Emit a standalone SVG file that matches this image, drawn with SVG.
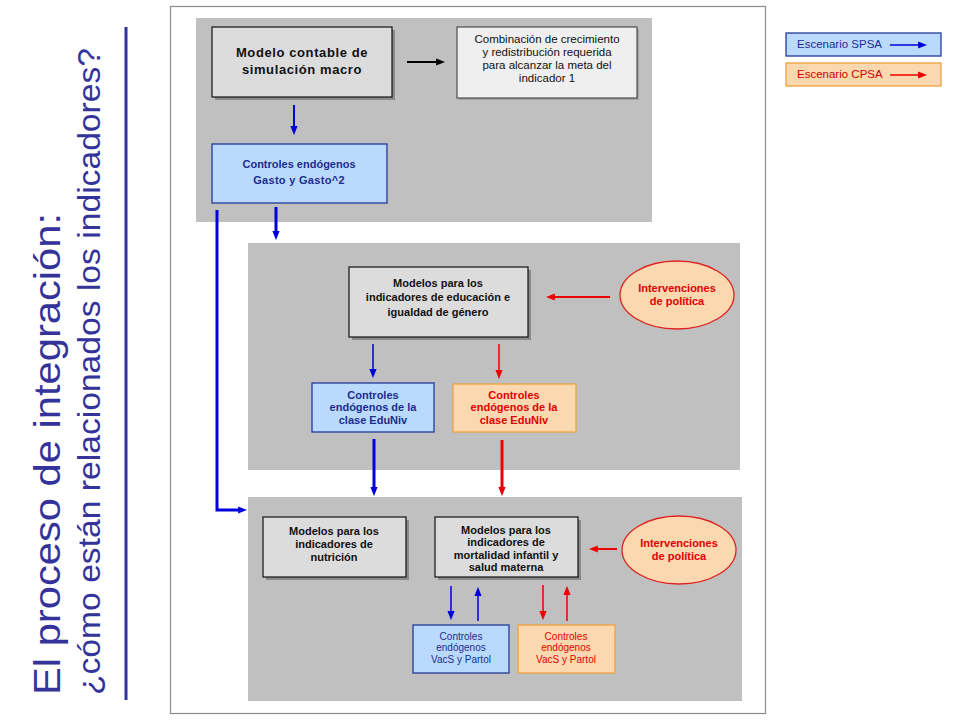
<svg xmlns="http://www.w3.org/2000/svg" width="960" height="720" viewBox="0 0 960 720">
<style>
.panel{fill:#c0c0c0}
.shadow{fill:#8a8a8a}
.gbox{fill:#dcdcdc;stroke:#111;stroke-width:1.2}
.lbox{fill:#efefef;stroke:#333;stroke-width:1}
.bbox{fill:#badafd;stroke:#233a98;stroke-width:1.3}
.obox{fill:#fcd8b0;stroke:#eea23e;stroke-width:1.3}
.ell{fill:#fcd8b0;stroke:#e02020;stroke-width:1.3}
text{font-family:"Liberation Sans",Arial,sans-serif;text-anchor:middle}
.tb{font-weight:bold;font-size:11px;fill:#111}
.tb13{font-weight:bold;font-size:13px;fill:#111;letter-spacing:0.6px}
.tr{font-size:11.5px;fill:#111}
.blue{fill:#1c2c8e}
.red{fill:#e00000}
.small{font-size:10px}
.ab{stroke:#0000dd;fill:none}
.ar{stroke:#ee0000;fill:none}
.ak{stroke:#000;fill:none}
.title{font-family:"Liberation Sans",Arial,sans-serif;fill:#33339a;text-anchor:start}
</style>
<defs>
<marker id="hb" markerUnits="userSpaceOnUse" markerWidth="9" markerHeight="8" viewBox="0 0 10 8" refX="1" refY="4" orient="auto"><path d="M0,0 L10,4 L0,8 z" fill="#0000dd"/></marker>
<marker id="hr" markerUnits="userSpaceOnUse" markerWidth="9" markerHeight="8" viewBox="0 0 10 8" refX="1" refY="4" orient="auto"><path d="M0,0 L10,4 L0,8 z" fill="#ee0000"/></marker>
<marker id="hk" markerUnits="userSpaceOnUse" markerWidth="9" markerHeight="8" viewBox="0 0 10 8" refX="1" refY="4" orient="auto"><path d="M0,0 L10,4 L0,8 z" fill="#000"/></marker>
</defs>
<rect width="960" height="720" fill="#fff"/>

<g id="title">
<text class="title" transform="translate(60,695) rotate(-90)" font-size="36" textLength="482" lengthAdjust="spacingAndGlyphs">El proceso de integración:</text>
<text class="title" transform="translate(100,695) rotate(-90)" font-size="32" textLength="647" lengthAdjust="spacingAndGlyphs">¿cómo están relacionados los indicadores?</text>
<line x1="126" y1="27" x2="126" y2="700" stroke="#33339a" stroke-width="3"/>
</g>

<rect id="frame" x="170.5" y="6.5" width="595" height="707" fill="#fff" stroke="#8c8c8c" stroke-width="1.2"/>

<g id="panels">
<rect class="panel" x="196" y="18" width="456" height="204"/>
<rect class="panel" x="248" y="243" width="492" height="227"/>
<rect class="panel" x="248" y="497" width="494" height="204"/>
</g>

<g id="n-modelo">
<rect class="shadow" x="215" y="30" width="180" height="70"/>
<rect class="gbox" x="212" y="27" width="180" height="70"/>
<text class="tb13" x="302" y="57">Modelo contable de</text>
<text class="tb13" x="302" y="74">simulación macro</text>
</g>

<g id="n-combinacion">
<rect class="shadow" x="459" y="29" width="180" height="71" opacity="0.5"/>
<rect class="lbox" x="457" y="27" width="180" height="71"/>
<text class="tr" x="547" y="43">Combinación de crecimiento</text>
<text class="tr" x="547" y="56">y redistribución requerida</text>
<text class="tr" x="547" y="69">para alcanzar la meta del</text>
<text class="tr" x="547" y="82">indicador 1</text>
</g>

<g id="n-gasto">
<rect class="bbox" x="212" y="144" width="175" height="59"/>
<text class="tb blue" x="299" y="168" font-size="12">Controles endógenos</text>
<text class="tb blue" x="299" y="184" font-size="12" letter-spacing="0.3">Gasto y Gasto^2</text>
</g>

<g id="n-educacion">
<rect class="shadow" x="352" y="270" width="179" height="70"/>
<rect class="gbox" x="349" y="267" width="179" height="70"/>
<text class="tb" x="438" y="287" font-size="12">Modelos para los</text>
<text class="tb" x="438" y="301" font-size="12">indicadores de educación e</text>
<text class="tb" x="438" y="316" font-size="12">igualdad de género</text>
</g>

<g id="n-interv1">
<ellipse class="ell" cx="677" cy="295" rx="57" ry="34"/>
<text class="tb red" x="677" y="292">Intervenciones</text>
<text class="tb red" x="677" y="305">de política</text>
</g>

<g id="n-edu-blue">
<rect class="bbox" x="312" y="383" width="122" height="49"/>
<text class="tb blue" x="373" y="399">Controles</text>
<text class="tb blue" x="373" y="411">endógenos de la</text>
<text class="tb blue" x="373" y="424">clase EduNiv</text>
</g>

<g id="n-edu-red">
<rect class="obox" x="453" y="384" width="123" height="48"/>
<text class="tb red" x="514" y="399">Controles</text>
<text class="tb red" x="514" y="411">endógenos de la</text>
<text class="tb red" x="514" y="424">clase EduNiv</text>
</g>

<g id="n-nutricion">
<rect class="shadow" x="266" y="520" width="143" height="60"/>
<rect class="gbox" x="263" y="517" width="143" height="60"/>
<text class="tb" x="334" y="535">Modelos para los</text>
<text class="tb" x="334" y="548">indicadores de</text>
<text class="tb" x="334" y="561">nutrición</text>
</g>

<g id="n-mortalidad">
<rect class="shadow" x="438" y="520" width="143" height="60"/>
<rect class="gbox" x="435" y="517" width="143" height="60"/>
<text class="tb" x="506" y="534">Modelos para los</text>
<text class="tb" x="506" y="546">indicadores de</text>
<text class="tb" x="506" y="559">mortalidad infantil y</text>
<text class="tb" x="506" y="571">salud materna</text>
</g>

<g id="n-interv2">
<ellipse class="ell" cx="679" cy="550" rx="57" ry="34"/>
<text class="tb red" x="679" y="547">Intervenciones</text>
<text class="tb red" x="679" y="560">de política</text>
</g>

<g id="n-vacs-blue">
<rect class="bbox" x="413" y="625" width="96" height="48"/>
<text class="tr blue small" x="461" y="640">Controles</text>
<text class="tr blue small" x="461" y="651">endógenos</text>
<text class="tr blue small" x="461" y="663">VacS y Partol</text>
</g>

<g id="n-vacs-red">
<rect class="obox" x="518" y="625" width="97" height="48"/>
<text class="tr red small" x="566" y="640">Controles</text>
<text class="tr red small" x="566" y="651">endógenos</text>
<text class="tr red small" x="566" y="663">VacS y Partol</text>
</g>

<g id="legend">
<rect class="bbox" x="786" y="33" width="155" height="23"/>
<text class="tr blue" x="797" y="48" font-size="9.5" style="text-anchor:start">Escenario SPSA</text>
<line class="ab" x1="890" y1="45" x2="919" y2="45" stroke-width="1.5" marker-end="url(#hb)"/>
<rect class="obox" x="786" y="63" width="155" height="23"/>
<text class="tr" x="797" y="78" font-size="9.5" style="text-anchor:start;fill:#cc0000">Escenario CPSA</text>
<line class="ar" x1="890" y1="75" x2="919" y2="75" stroke-width="1.5" marker-end="url(#hr)"/>
</g>

<g id="connectors">
<line class="ak" x1="407" y1="62" x2="437" y2="62" stroke-width="2" marker-end="url(#hk)"/>
<line class="ab" x1="294" y1="105" x2="294" y2="127" stroke-width="2" marker-end="url(#hb)"/>
<line class="ab" x1="276" y1="207" x2="276" y2="232" stroke-width="3" marker-end="url(#hb)"/>
<polyline class="ab" points="217,210 217,510 239,510" stroke-width="3" marker-end="url(#hb)"/>
<line class="ab" x1="373" y1="344" x2="373" y2="370" stroke-width="1.5" marker-end="url(#hb)"/>
<line class="ar" x1="499" y1="344" x2="499" y2="371" stroke-width="1.5" marker-end="url(#hr)"/>
<line class="ar" x1="610" y1="297" x2="554" y2="297" stroke-width="2" marker-end="url(#hr)"/>
<line class="ab" x1="374" y1="439" x2="374" y2="488" stroke-width="3" marker-end="url(#hb)"/>
<line class="ar" x1="502" y1="440" x2="502" y2="488" stroke-width="3" marker-end="url(#hr)"/>
<line class="ar" x1="617" y1="549" x2="597" y2="549" stroke-width="2" marker-end="url(#hr)"/>
<line class="ab" x1="451" y1="586" x2="451" y2="612" stroke-width="1.5" marker-end="url(#hb)"/>
<line class="ab" x1="478" y1="621" x2="478" y2="595" stroke-width="1.5" marker-end="url(#hb)"/>
<line class="ar" x1="543" y1="585" x2="543" y2="612" stroke-width="1.5" marker-end="url(#hr)"/>
<line class="ar" x1="567" y1="621" x2="567" y2="594" stroke-width="1.5" marker-end="url(#hr)"/>
</g>
</svg>
